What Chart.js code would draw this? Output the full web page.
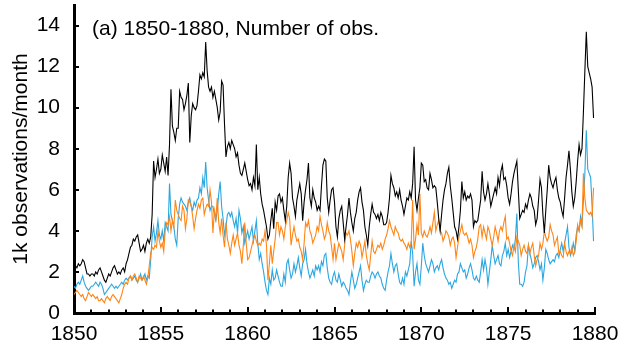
<!DOCTYPE html>
<html>
<head>
<meta charset="utf-8">
<script src="https://cdn.jsdelivr.net/npm/chart.js@4.4.1/dist/chart.umd.min.js"></script>
<style>
  html, body { margin: 0; padding: 0; background: #fff; }
  canvas { display: block; }
</style>
</head>
<body>
<canvas id="grafico" width="620" height="344"></canvas>
<script>
// monthly counts (thousands of observations), Jan 1850 .. Dec 1879
const startYear = 1850;
const endYear = 1880;
const yTicks = [0, 2, 4, 6, 8, 10, 12, 14];
const titulo = '(a) 1850-1880, Number of obs.';
const eixoY = '1k observations/month';

const totalObs = [
  2.1, 2.3, 2.2, 2.4, 2.3, 2.4, 2.6, 2.5, 2.2, 1.9, 1.9, 1.8,
  1.9, 1.9, 1.8, 2.0, 1.9, 2.1, 2.2, 2.0, 1.8, 1.6, 1.5, 1.7,
  1.9, 1.8, 2.0, 2.2, 2.3, 2.1, 1.9, 2.0, 1.9, 2.1, 2.2, 2.0,
  2.4, 2.6, 2.9, 3.2, 3.3, 3.6, 3.5, 3.7, 3.8, 3.4, 3.0, 3.1,
  3.3, 3.0, 3.4, 3.6, 3.4, 3.7, 4.8, 7.4, 6.6, 7.0, 7.5, 6.8,
  7.0, 7.7, 7.3, 6.9, 7.6, 6.7, 8.2, 10.9, 9.1, 8.8, 8.4, 9.0,
  9.0, 10.8, 10.5, 10.4, 9.9, 10.2, 10.6, 11.2, 8.3, 9.6, 10.2, 10.0,
  9.9, 10.1, 10.8, 11.6, 11.4, 11.7, 11.5, 13.2, 11.8, 11.0, 10.8, 11.0,
  10.5, 10.8, 10.4, 10.0, 9.4, 9.8, 11.3, 11.1, 9.2, 7.6, 8.1, 8.3,
  8.0, 8.4, 8.2, 8.0, 7.6, 7.8, 7.2, 6.8, 6.7, 7.0, 7.3, 6.9,
  6.5, 6.2, 6.3, 6.0, 6.6, 6.2, 8.2, 6.0, 6.6, 5.8, 5.3, 5.0,
  4.6, 4.2, 3.6, 3.8, 4.5, 5.1, 4.1, 5.4, 5.0, 5.7, 5.8, 5.4,
  5.6, 5.0, 4.5, 5.2, 6.6, 7.3, 6.8, 5.6, 5.2, 4.7, 5.5, 5.9,
  6.3, 5.8, 4.5, 5.4, 6.0, 6.5, 7.3, 5.6, 5.2, 6.0, 5.6, 5.4,
  5.0, 5.2, 5.0, 6.2, 7.2, 7.5, 7.4, 5.6, 4.9, 5.5, 6.0, 6.1,
  5.4, 4.2, 3.7, 4.6, 5.0, 5.2, 4.4, 3.6, 4.2, 4.8, 5.6, 4.9,
  4.4, 4.0, 4.6, 4.9, 5.5, 5.9, 6.1, 5.4, 5.0, 4.2, 3.8, 3.3,
  4.2, 4.8, 5.3, 4.9, 4.8, 4.6, 4.8, 4.5, 4.9, 4.7, 4.3, 4.3,
  4.4, 4.9, 5.6, 6.7, 6.3, 6.1, 5.7, 5.9, 5.6, 6.0, 5.5, 5.2,
  4.8, 5.2, 5.6, 5.5, 5.9, 5.6, 6.3, 8.1, 5.5, 5.0, 5.6, 6.1,
  7.3, 7.2, 6.4, 6.5, 6.1, 6.0, 6.8, 6.5, 6.1, 6.2, 6.1, 5.4,
  4.6, 4.0, 4.8, 5.5, 6.0, 6.3, 6.8, 7.1, 6.2, 5.6, 4.9, 4.2,
  4.0, 3.6, 4.2, 5.0, 6.4, 5.6, 5.9, 5.5, 5.7, 5.6, 5.8, 5.5,
  4.2, 4.5, 4.4, 4.5, 5.0, 5.5, 6.9, 5.9, 5.5, 5.8, 6.3, 5.8,
  5.2, 5.5, 5.8, 6.1, 5.8, 6.6, 6.2, 6.9, 7.2, 6.5, 6.6, 6.2,
  5.6, 5.3, 5.8, 6.4, 6.8, 7.1, 7.4, 6.0, 4.6, 4.8, 5.0, 4.9,
  5.3, 5.1, 5.5, 5.8, 5.6, 5.2, 5.0, 4.3, 4.6, 5.5, 6.5, 6.1,
  4.8, 3.9, 5.0, 6.0, 7.2, 6.6, 6.3, 6.1, 6.4, 6.6, 6.0, 5.6,
  5.4, 5.0, 4.7, 5.6, 6.6, 7.2, 7.9, 7.0, 5.9, 5.2, 5.6, 6.4,
  7.4, 8.2, 7.7, 8.0, 9.8, 11.8, 13.7, 12.0, 11.7, 11.4, 11.0, 9.5
];

const laranjaObs = [
  0.9, 1.0, 1.1, 1.0, 0.9, 0.8, 0.9, 0.7, 0.6, 0.8, 1.0, 0.9,
  0.8, 0.9, 0.8, 0.7, 0.8, 0.6, 0.6, 0.7, 0.6, 0.5, 0.7, 0.8,
  0.7, 0.6, 0.8, 0.9, 0.8, 0.7, 0.6, 0.5, 0.7, 0.9, 1.2, 1.4,
  1.5, 1.4, 1.7, 1.8, 1.6, 1.8, 1.9, 1.7, 1.5, 1.8, 1.7, 1.6,
  1.8, 1.6, 1.4, 1.7, 2.3, 2.9, 3.2, 3.1, 3.3, 3.2, 4.0, 3.5,
  3.2, 3.4, 3.0, 4.0, 4.4, 4.3, 4.7, 4.0, 4.5, 4.2, 5.5, 5.0,
  4.8, 4.6, 4.5, 5.2, 5.0, 4.1, 4.6, 5.5, 5.4, 5.2, 4.7, 4.1,
  4.6, 5.0, 5.3, 5.1, 5.5, 5.6, 4.8, 5.1, 5.3, 5.2, 6.0, 5.4,
  3.9, 5.0, 4.6, 5.6, 4.4, 3.9, 4.6, 3.8, 3.2, 4.4, 3.6, 3.3,
  2.9, 3.4, 3.8, 3.3, 3.6, 3.9, 3.3, 3.0, 2.4, 3.3, 4.4, 3.4,
  2.6, 2.7, 3.0, 3.3, 3.6, 3.8, 3.5, 3.3, 3.4, 3.3, 3.6, 3.5,
  4.0, 3.3, 1.6, 2.4, 3.3, 2.4, 3.0, 3.6, 4.4, 4.4, 3.8, 4.2,
  4.0, 3.6, 4.2, 4.5, 4.9, 4.6, 3.3, 3.8, 4.2, 3.8, 3.5, 3.6,
  3.2, 3.0, 2.6, 3.4, 4.4, 4.2, 4.5, 4.0, 3.8, 3.4, 3.6, 3.8,
  4.2, 4.0, 4.7, 4.3, 4.0, 3.6, 3.8, 4.4, 4.0, 3.8, 3.2, 2.6,
  3.4, 2.6, 3.0, 3.4, 3.2, 3.0, 2.6, 3.3, 3.9, 3.8, 4.0, 3.6,
  3.0, 2.3, 2.9, 3.4, 3.2, 3.5, 3.3, 2.7, 3.1, 3.5, 2.8, 2.4,
  2.1, 2.8, 3.5, 3.0, 2.9, 3.1, 3.3, 3.2, 3.4, 3.1, 3.3, 3.6,
  3.8, 4.1, 4.5, 4.2, 4.0, 3.8, 4.2, 4.0, 3.9, 3.6, 3.5, 3.6,
  3.4, 3.3, 3.1, 3.4, 3.2, 3.4, 5.5, 3.1, 3.6, 4.3, 3.8, 5.8,
  3.9, 3.7, 4.0, 3.8, 3.7, 3.9, 4.2, 3.9, 4.4, 4.9, 4.0, 4.3,
  4.5, 4.0, 3.9, 3.5, 3.7, 4.0, 3.9, 3.7, 3.3, 3.6, 3.7, 3.4,
  2.7, 3.2, 3.7, 4.0, 4.3, 3.9, 3.8, 3.9, 3.7, 3.4, 3.6, 3.3,
  2.7, 3.0, 3.2, 3.6, 4.2, 4.3, 3.7, 4.2, 3.9, 3.6, 4.2, 4.0,
  3.6, 3.3, 3.7, 4.2, 3.9, 3.5, 4.0, 4.2, 4.0, 4.4, 4.7, 3.6,
  3.7, 3.4, 3.0, 2.8, 3.3, 3.0, 3.7, 3.5, 3.3, 2.8, 3.1, 3.3,
  3.0, 2.9, 3.3, 2.9, 3.2, 3.4, 2.8, 2.3, 2.6, 2.8, 3.4, 3.1,
  3.4, 4.0, 3.7, 3.5, 3.7, 4.3, 4.0, 3.8, 3.3, 3.5, 3.7, 2.9,
  3.0, 2.8, 2.7, 3.4, 3.0, 2.8, 3.0, 2.9, 3.2, 2.8, 3.0, 3.5,
  4.3, 4.0, 4.5, 4.2, 6.8, 5.6, 5.0, 4.9, 4.8, 4.9, 4.7, 6.1
];

const azulObs = [
  1.3, 1.2, 1.4, 1.5, 1.4, 1.6, 1.8, 1.5, 1.3, 1.2, 1.1, 1.2,
  1.3, 1.3, 1.4, 1.5, 1.4, 1.3, 1.5, 1.4, 1.2, 0.9, 1.0, 1.1,
  1.2, 1.3, 1.4, 1.3, 1.2, 1.3, 1.2, 1.3, 1.4, 1.5, 1.4, 1.6,
  1.7, 1.6, 1.7, 1.8, 1.6, 1.7, 1.8, 1.6, 1.5, 1.7, 1.9, 1.6,
  1.7, 1.9, 1.6, 1.8, 1.7, 2.6, 3.7, 4.2, 3.5, 3.9, 4.5, 3.8,
  3.6, 4.0, 3.5, 4.4, 4.2, 4.0, 6.3, 4.8, 4.5, 4.2, 3.6, 3.3,
  4.6, 5.3, 5.6, 5.4, 5.3, 5.2, 5.0, 5.4, 5.6, 5.2, 5.0, 5.4,
  5.2, 5.5, 5.6, 6.1, 5.8, 6.6, 6.1, 7.35, 6.1, 5.5, 5.0, 5.2,
  5.2, 4.8, 4.5, 5.0, 5.8, 6.4, 5.2, 4.6, 3.8, 4.2, 4.8, 4.9,
  4.7, 4.9, 4.5, 4.2, 4.6, 3.9, 5.0, 4.6, 3.9, 4.2, 3.4, 3.7,
  4.0, 3.6, 3.9, 4.2, 3.5, 4.0, 4.5, 3.4, 2.6, 2.9, 2.4, 2.0,
  1.5, 1.1, 0.9, 1.7, 1.4, 2.1, 1.6, 1.7, 2.1, 1.8, 1.5, 1.3,
  1.3, 1.9, 1.5, 2.4, 2.6, 2.1, 1.7, 1.9, 2.4, 2.0, 2.3, 2.7,
  2.2, 1.8, 2.4, 2.6, 3.1, 2.4, 2.0, 1.7, 1.9, 2.1, 1.8, 2.3,
  2.1, 2.3, 2.0, 2.5, 2.3, 2.8, 2.9, 2.2, 1.7, 1.5, 1.4, 1.8,
  2.0, 1.6, 1.5, 1.9, 1.6, 1.3, 1.5, 1.4, 1.2, 1.1, 0.9, 1.5,
  2.0, 1.6, 1.2, 1.4, 1.7, 2.0, 2.3, 1.6, 1.1, 1.4, 1.6, 1.5,
  1.5, 1.8, 2.0, 1.9, 1.7, 1.9, 2.0, 1.8, 1.7, 1.4, 1.2, 1.1,
  1.6, 2.0, 2.3, 2.9, 2.4, 2.0, 2.3, 2.4, 1.9, 1.5, 1.4, 1.7,
  1.4, 2.0, 1.8, 2.1, 2.4, 3.5, 2.9, 1.3, 2.0, 2.4, 1.6, 1.4,
  2.3, 3.4, 2.8, 2.4, 2.2, 2.0, 2.3, 2.6, 2.4, 2.0, 2.2, 2.3,
  2.1, 2.4, 2.6, 2.2, 1.9, 1.7, 1.6, 1.4, 1.5, 1.2, 1.4, 1.6,
  1.5, 1.9, 2.0, 2.4, 2.2, 2.0, 2.1, 1.7, 1.9, 2.2, 2.4, 2.1,
  1.7, 1.6, 1.8, 1.6, 1.5, 2.0, 2.6, 2.1, 2.6, 2.2, 1.4, 2.0,
  2.6, 3.3, 2.8, 2.4, 2.6, 2.8, 2.4, 2.3, 2.8, 3.0, 3.4, 2.8,
  3.1, 2.7, 3.0, 3.3, 3.1, 3.6, 4.85, 2.5, 1.4, 1.4, 1.3, 1.5,
  2.0, 2.3, 3.3, 2.9, 2.6, 2.2, 2.4, 2.7, 2.8, 2.5, 2.1, 2.4,
  1.6, 2.2, 3.1, 2.9, 2.6, 2.4, 2.5, 2.6, 2.5, 2.8, 2.9, 2.7,
  3.1, 3.4, 3.0, 3.4, 3.8, 4.2, 3.2, 2.8, 3.0, 3.4, 3.0, 3.8,
  4.2, 4.0, 4.7, 4.3, 5.5, 6.8, 8.9, 7.0, 6.8, 6.6, 5.2, 3.5
];

const fonte = "'Liberation Sans', Arial, sans-serif";

function serieMensal(valores) {
  return valores.map((v, i) => ({ x: startYear + i / 12, y: v }));
}

// ticks pointing into the plot + panel label
const ticksInternos = {
  id: 'ticksInternos',
  afterDraw(chart) {
    const ctx = chart.ctx;
    const area = chart.chartArea;
    const xs = chart.scales.x;
    const ys = chart.scales.y;
    ctx.save();
    ctx.strokeStyle = '#000';
    ctx.lineWidth = 2;
    xs.ticks.forEach(t => {
      const px = Math.round(xs.getPixelForValue(t.value));
      const len = t.value % 5 === 0 ? 6 : 3.5;
      ctx.beginPath();
      ctx.moveTo(px, area.bottom);
      ctx.lineTo(px, area.bottom - len);
      ctx.stroke();
    });
    ys.ticks.forEach(t => {
      const py = Math.round(ys.getPixelForValue(t.value));
      ctx.beginPath();
      ctx.moveTo(area.left, py);
      ctx.lineTo(area.left + 5, py);
      ctx.stroke();
    });
    ctx.fillStyle = '#000';
    ctx.font = '21px ' + fonte;
    ctx.textBaseline = 'alphabetic';
    ctx.textAlign = 'left';
    ctx.fillText(titulo, 92, 35);
    ctx.restore();
  }
};

const ctx = document.getElementById('grafico').getContext('2d');
new Chart(ctx, {
  type: 'line',
  data: {
    datasets: [
      { data: serieMensal(totalObs), borderColor: '#000000', borderWidth: 1.1 },
      { data: serieMensal(laranjaObs), borderColor: '#ff8515', borderWidth: 1.1 },
      { data: serieMensal(azulObs), borderColor: '#2aa7e0', borderWidth: 1.1 }
    ]
  },
  options: {
    responsive: false,
    animation: false,
    devicePixelRatio: 1,
    layout: { padding: { top: 5, right: 25, left: 0, bottom: 0 } },
    elements: {
      point: { radius: 0 },
      line: { tension: 0, fill: false }
    },
    plugins: {
      legend: { display: false },
      tooltip: { enabled: false }
    },
    scales: {
      x: {
        type: 'linear',
        min: startYear,
        max: endYear,
        grid: { display: false },
        border: { display: true, color: '#000', width: 3 },
        ticks: {
          stepSize: 1,
          autoSkip: false,
          maxRotation: 0,
          padding: 1,
          color: '#000',
          font: { family: fonte, size: 21 },
          callback: v => (v % 5 === 0 ? String(v) : '')
        },
        afterFit: s => {
          s.height = 31;
          s.paddingLeft = 0;
          s.paddingRight = 0;
        }
      },
      y: {
        type: 'linear',
        min: 0,
        max: 15,
        grid: { display: false },
        border: { display: true, color: '#000', width: 3 },
        afterBuildTicks: s => { s.ticks = yTicks.map(v => ({ value: v })); },
        ticks: {
          padding: 6,
          color: '#000',
          font: { family: fonte, size: 21 },
          callback: v => String(v)
        },
        title: {
          display: true,
          text: eixoY,
          color: '#000',
          font: { family: fonte, size: 21 },
          padding: { top: 9, bottom: 0 }
        },
        afterFit: s => {
          s.width = 74;
          s.paddingTop = 0;
          s.paddingBottom = 0;
        }
      }
    }
  },
  plugins: [ticksInternos]
});
</script>
</body>
</html>
